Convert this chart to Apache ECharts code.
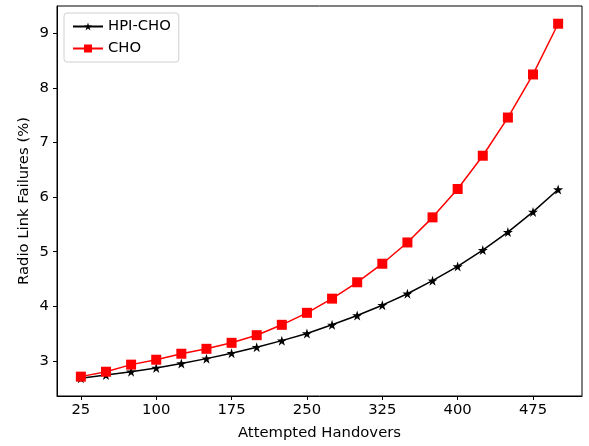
<!DOCTYPE html>
<html>
<head>
<meta charset="utf-8">
<script src="https://cdn.jsdelivr.net/npm/echarts@6/dist/echarts.min.js"></script>
<style>
  html, body { margin: 0; padding: 0; background: #fff; }
  #chart { width: 589px; height: 446px; }
</style>
</head>
<body>
<div id="chart"></div>
<script>
const handovers = [25, 50, 75, 100, 125, 150, 175, 200, 225, 250, 275, 300, 325, 350, 375, 400, 425, 450, 475, 500];
const hpiCho = [2.68, 2.74, 2.80, 2.87, 2.95, 3.04, 3.14, 3.25, 3.37, 3.50, 3.66, 3.83, 4.02, 4.23, 4.47, 4.73, 5.03, 5.36, 5.73, 6.14];
const cho = [2.71, 2.80, 2.93, 3.02, 3.13, 3.22, 3.33, 3.47, 3.66, 3.88, 4.14, 4.44, 4.78, 5.17, 5.63, 6.15, 6.76, 7.46, 8.25, 9.18];
const xTicks = [25, 100, 175, 250, 325, 400, 475];
const yTicks = [3, 4, 5, 6, 7, 8, 9];

const star = 'path://M100,0 L122.45,69.1 L195.1,69.1 L136.3,111.8 L158.8,180.9 L100,138.2 L41.2,180.9 L63.7,111.8 L4.9,69.1 L77.55,69.1 Z';
const font = 'DejaVu Sans';

const chart = echarts.init(document.getElementById('chart'));
chart.setOption({
  animation: false,
  textStyle: { fontFamily: font },
  grid: {
    left: 57, top: 6, right: 7, bottom: 48.5,
    show: true, borderColor: '#000', borderWidth: 1
  },
  legend: {
    left: 64, top: 13,
    orient: 'vertical',
    itemWidth: 30, itemHeight: 10, itemGap: 7,
    padding: [6, 8, 6, 8],
    borderColor: '#d0d0d0', borderWidth: 1, borderRadius: 3,
    textStyle: { fontFamily: font, fontSize: 14.8, color: '#000' },
    data: ['HPI-CHO', 'CHO']
  },
  xAxis: {
    type: 'value',
    min: 1.25, max: 523.75,
    name: 'Attempted Handovers',
    nameLocation: 'middle', nameGap: 30, nameMoveOverlap: false,
    nameTextStyle: { fontFamily: font, fontSize: 14.8, color: '#000' },
    splitLine: { show: false },
    axisLine: { lineStyle: { color: '#000' } },
    axisTick: { customValues: xTicks, length: 4, lineStyle: { color: '#000' } },
    axisLabel: { customValues: xTicks, fontFamily: font, fontSize: 14.8, color: '#000', margin: 7 }
  },
  yAxis: {
    type: 'value',
    min: 2.355, max: 9.505,
    name: 'Radio Link Failures (%)',
    nameLocation: 'middle', nameGap: 25, nameMoveOverlap: false,
    nameTextStyle: { fontFamily: font, fontSize: 14.8, color: '#000' },
    splitLine: { show: false },
    axisLine: { show: true, lineStyle: { color: '#000' } },
    axisTick: { show: true, customValues: yTicks, length: 4, lineStyle: { color: '#000' } },
    axisLabel: { customValues: yTicks, fontFamily: font, fontSize: 14.8, color: '#000', margin: 8 }
  },
  series: [
    {
      name: 'HPI-CHO', type: 'line',
      data: handovers.map((x, i) => [x, hpiCho[i]]),
      symbol: star, symbolSize: 10, showAllSymbol: true,
      lineStyle: { color: '#000', width: 1.5 },
      itemStyle: { color: '#000' }
    },
    {
      name: 'CHO', type: 'line',
      data: handovers.map((x, i) => [x, cho[i]]),
      symbol: 'rect', symbolSize: 10, showAllSymbol: true,
      lineStyle: { color: '#ff0000', width: 1.5 },
      itemStyle: { color: '#ff0000' }
    }
  ]
});
</script>
</body>
</html>
